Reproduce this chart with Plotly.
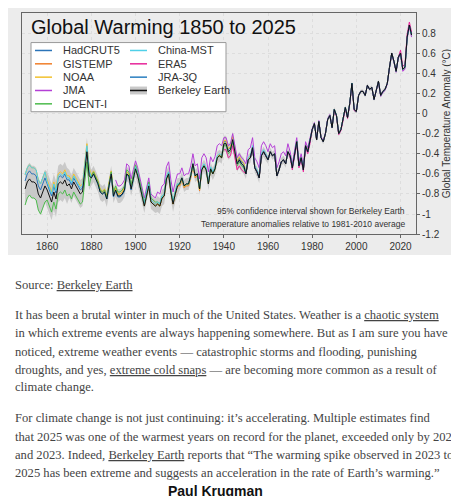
import plotly.graph_objects as go

W, H = 459, 496

# Berkeley Earth annual anomaly (°C, rel. 1981-2010), 1850-2025
years = list(range(1850, 2026))
berkeley = [
    -0.75, -0.68, -0.65, -0.68, -0.68, -0.70, -0.80, -0.84, -0.78, -0.72,
    -0.76, -0.82, -0.88, -0.78, -0.85, -0.70, -0.68, -0.70, -0.66, -0.72,
    -0.70, -0.75, -0.68, -0.72, -0.76, -0.80, -0.78, -0.55, -0.38, -0.62,
    -0.64, -0.60, -0.65, -0.70, -0.78, -0.80, -0.78, -0.85, -0.72, -0.60,
    -0.82, -0.76, -0.82, -0.82, -0.80, -0.76, -0.60, -0.62, -0.75, -0.66,
    -0.55, -0.62, -0.74, -0.82, -0.92, -0.80, -0.72, -0.88, -0.90, -0.92,
    -0.90, -0.92, -0.84, -0.82, -0.65, -0.60, -0.78, -0.90, -0.80, -0.72,
    -0.70, -0.64, -0.72, -0.70, -0.70, -0.62, -0.50, -0.62, -0.60, -0.75,
    -0.56, -0.52, -0.56, -0.70, -0.55, -0.60, -0.55, -0.44, -0.42, -0.44,
    -0.30, -0.30, -0.38, -0.36, -0.26, -0.38, -0.50, -0.46, -0.50, -0.52,
    -0.60, -0.46, -0.44, -0.34, -0.54, -0.58, -0.64, -0.42, -0.38, -0.42,
    -0.46, -0.38, -0.42, -0.40, -0.62, -0.56, -0.48, -0.46, -0.50, -0.38,
    -0.42, -0.54, -0.42, -0.28, -0.52, -0.44, -0.56, -0.32, -0.38, -0.28,
    -0.16, -0.10, -0.26, -0.08, -0.24, -0.28, -0.20, -0.06, -0.02, -0.14,
    0.04, -0.02, -0.20, -0.16, -0.06, 0.06, -0.04, 0.10, 0.30, 0.04,
    0.02, 0.18, 0.22, 0.22, 0.18, 0.28, 0.24, 0.26, 0.14, 0.24,
    0.32, 0.18, 0.22, 0.24, 0.30, 0.46, 0.60, 0.52, 0.42, 0.56,
    0.60, 0.44, 0.46, 0.76, 0.88, 0.78,
]
# 95% half-width by decade, 1850s..2020s
unc_decade = [0.16, 0.18, 0.14, 0.08, 0.07, 0.07, 0.08, 0.06, 0.06,
              0.08, 0.05, 0.04, 0.03, 0.025, 0.025, 0.02, 0.02, 0.02]

# other datasets: (name, colour, first year, offset from Berkeley by decade)
others = [
    ("HadCRUT5", "#2b74b8", 1850, [0.08, 0.06, 0.04, 0.0, -0.01, 0.0, 0.0, 0.0, 0.01,
                                   0.02, 0.0, 0.0, 0.0, 0.0, 0.0, 0.0, 0.0, 0.0]),
    ("GISTEMP", "#f07f2a", 1880, [0, 0, 0, 0.02, 0.02, 0.02, 0.0, -0.02, 0.0,
                                  0.0, 0.0, 0.0, 0.01, 0.0, 0.0, 0.0, 0.0, 0.0]),
    ("NOAA", "#f2c12e", 1850, [0.14, 0.10, 0.08, 0.03, 0.02, 0.0, 0.0, -0.01, 0.01,
                               0.03, 0.01, 0.0, 0.0, 0.0, 0.0, 0.0, 0.0, 0.0]),
    ("JMA", "#b43fd6", 1891, [0, 0, 0, 0, 0.10, 0.08, 0.12, 0.10, 0.12,
                              0.06, 0.10, 0.08, 0.04, 0.01, 0.0, 0.0, -0.01, -0.02]),
    ("DCENT-I", "#4cbb4c", 1850, [-0.16, -0.10, -0.10, 0.02, 0.04, 0.04, 0.02, 0.0, 0.0,
                                  -0.02, 0.0, 0.0, 0.0, 0.0, 0.0, 0.0, 0.0, 0.0]),
    ("China-MST", "#4fd0e8", 1850, [0.14, 0.08, 0.06, 0.0, 0.0, 0.02, 0.02, 0.0, 0.02,
                                    0.0, 0.02, 0.0, 0.0, 0.0, 0.0, 0.0, 0.0, 0.0]),
    ("ERA5", "#e7269a", 1940, [0, 0, 0, 0, 0, 0, 0, 0, 0,
                               -0.06, 0.0, 0.0, -0.02, 0.0, -0.01, 0.0, 0.0, 0.03]),
    ("JRA-3Q", "#2a7fc0", 1947, [0, 0, 0, 0, 0, 0, 0, 0, 0,
                                 0.0, 0.0, 0.0, 0.0, 0.0, 0.0, 0.0, 0.0, 0.0]),
]

x_ticks = [1860, 1880, 1900, 1920, 1940, 1960, 1980, 2000, 2020]
y_ticks = [-1.2, -1.0, -0.8, -0.6, -0.4, -0.2, 0.0, 0.2, 0.4, 0.6, 0.8]
y_text = ["-1.2", "-1", "-0.8", "-0.6", "-0.4", "-0.2", "0", "0.2", "0.4", "0.6", "0.8"]


def px(x):
    return x / W


def py(y):
    return 1 - y / H


fig = go.Figure()

unc = [unc_decade[(y - 1850) // 10] for y in years]
upper = [b + u for b, u in zip(berkeley, unc)]
lower = [b - u for b, u in zip(berkeley, unc)]
fig.add_trace(go.Scatter(x=years + years[::-1], y=upper + lower[::-1], fill="toself",
                         fillcolor="#c9c9c9", line=dict(width=0), hoverinfo="skip",
                         showlegend=False))

for name, color, start, off in others:
    xs = [y for y in years if y >= start]
    ys = [berkeley[y - 1850] + off[(y - 1850) // 10] for y in xs]
    fig.add_trace(go.Scatter(x=xs, y=ys, mode="lines", line=dict(color=color, width=1),
                             name=name, showlegend=False))

fig.add_trace(go.Scatter(x=years, y=berkeley, mode="lines", line=dict(color="#111", width=1),
                         name="Berkeley Earth", showlegend=False))

sans = "Liberation Sans, Arial, sans-serif"
serif = "Liberation Serif, serif"
shapes = [dict(type="rect", xref="paper", yref="paper", x0=0, x1=px(453), y0=py(250), y1=1,
               fillcolor="#ececec", line=dict(width=0), layer="below")]
ann = []

# manual legend
shapes.append(dict(type="rect", xref="paper", yref="paper", x0=px(23), x1=px(218),
                   y0=py(105), y1=py(35), fillcolor="white", line=dict(color="#999", width=1)))
order = {"HadCRUT5": (0, 0), "GISTEMP": (0, 1), "NOAA": (0, 2), "JMA": (0, 3), "DCENT-I": (0, 4),
         "China-MST": (1, 0), "ERA5": (1, 1), "JRA-3Q": (1, 2), "Berkeley Earth": (1, 3)}
colors = {n: c for n, c, _, _ in others}
colors["Berkeley Earth"] = "#111"
for name, (col, row) in order.items():
    lx = 27 if col == 0 else 122
    ly = 43 + row * 13.5
    if name == "Berkeley Earth":
        shapes.append(dict(type="rect", xref="paper", yref="paper", x0=px(lx), x1=px(lx + 17),
                           y0=py(ly + 4), y1=py(ly - 4), fillcolor="#c9c9c9", line=dict(width=0)))
    shapes.append(dict(type="line", xref="paper", yref="paper", x0=px(lx), x1=px(lx + 17),
                       y0=py(ly), y1=py(ly), line=dict(color=colors[name], width=1.5)))
    ann.append(dict(x=px(lx + 26), y=py(ly), xref="paper", yref="paper", text=name,
                    showarrow=False, xanchor="left", yanchor="middle",
                    font=dict(family=sans, size=11, color="#333")))

ann += [
    dict(x=px(21), y=py(19), text="Global Warming 1850 to 2025", xanchor="left", yanchor="middle",
         font=dict(family=sans, size=20, color="#111")),
    dict(x=px(399), y=py(205), text="95% confidence interval shown for Berkeley Earth",
         xanchor="right", yanchor="middle", font=dict(family=sans, size=8.5, color="#333")),
    dict(x=px(399), y=py(219), text="Temperature anomalies relative to 1981-2010 average",
         xanchor="right", yanchor="middle", font=dict(family=sans, size=8.5, color="#333")),
]

u = '<span style="text-decoration:underline">%s</span>'
body = [
    (280, "Source: " + u % "Berkeley Earth"),
    (311, "It has been a brutal winter in much of the United States. Weather is a " + u % "chaotic system"),
    (329, "in which extreme events are always happening somewhere. But as I am sure you have"),
    (348, "noticed, extreme weather events — catastrophic storms and flooding, punishing"),
    (366, "droughts, and yes, " + u % "extreme cold snaps" + " — are becoming more common as a result of"),
    (384, "climate change."),
    (415, "For climate change is not just continuing: it’s accelerating. Multiple estimates find"),
    (434, "that 2025 was one of the warmest years on record for the planet, exceeded only by 2024"),
    (452, "and 2023. Indeed, " + u % "Berkeley Earth" + " reports that “The warming spike observed in 2023 to"),
    (471, "2025 has been extreme and suggests an acceleration in the rate of Earth’s warming.”"),
]
for yy, t in body:
    ann.append(dict(x=px(5), y=py(yy), text=t, xanchor="left", yanchor="middle",
                    font=dict(family=serif, size=12.6, color="#444")))
ann.append(dict(x=px(207), y=py(489), text="<b>Paul Krugman</b>", xanchor="center", yanchor="middle",
                font=dict(family=sans, size=14, color="#111")))
for a in ann:
    a.setdefault("xref", "paper")
    a.setdefault("yref", "paper")
    a["showarrow"] = False

fig.update_layout(
    width=W, height=H, margin=dict(l=0, r=0, t=0, b=0),
    paper_bgcolor="white", plot_bgcolor="white",
    shapes=shapes, annotations=ann,
    xaxis=dict(domain=[px(14), px(408)], range=[1848.6, 2027], tickvals=x_ticks,
               ticks="outside", ticklen=3, tickcolor="#666", showline=True, linecolor="#666",
               mirror=True, showgrid=True, gridcolor="#ddd", griddash="dot", zeroline=False,
               tickfont=dict(family=sans, size=10, color="#333")),
    yaxis=dict(domain=[py(229), py(5)], range=[-1.2, 1.0], side="right", tickvals=y_ticks,
               ticktext=y_text, ticks="outside", ticklen=3, tickcolor="#666", showline=True,
               linecolor="#666", mirror=True, showgrid=True, gridcolor="#ddd", griddash="dot",
               zeroline=False, tickfont=dict(family=sans, size=10, color="#333"),
               title=dict(text="Global Temperature Anomaly (°C)", standoff=4,
                          font=dict(family=sans, size=10, color="#333"))),
)

fig.write_html("out.html")
